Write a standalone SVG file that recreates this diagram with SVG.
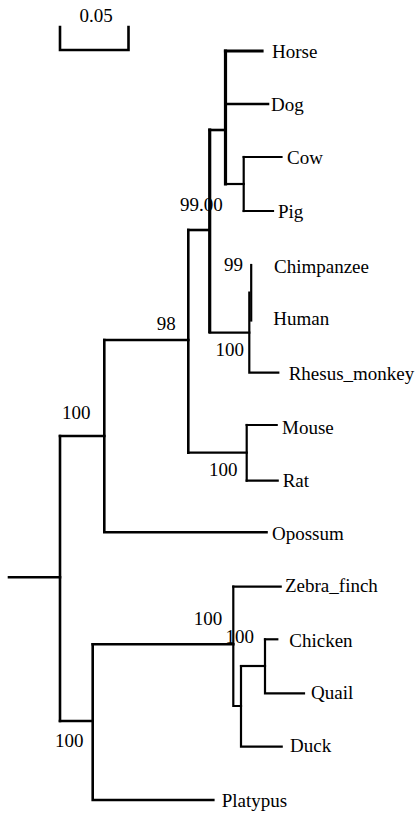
<svg xmlns="http://www.w3.org/2000/svg" width="418" height="814" viewBox="0 0 418 814">
<style>
.b{fill:none;stroke:#000;stroke-width:2.6;stroke-linecap:square;stroke-linejoin:miter}
.t{stroke-width:3.2}
.n{stroke-width:2.2}
text{font-family:"Liberation Serif","Times New Roman",serif;font-size:19px;fill:#000}
.m{text-anchor:middle}
</style>
<rect width="418" height="814" fill="#fff"/>
<g id="scale">
<path class="b" d="M60,27 V50 H128.5 V27"/>
<text class="m" x="96" y="22">0.05</text>
</g>
<g id="connectors">
<path class="b" d="M9,577.3 H60"/>
<path class="b" d="M60,436 V721"/>
<path class="b" d="M60,436 H104.3"/>
<path class="b" d="M104.3,340 V532.3 H266.5"/>
<path class="b" d="M104.3,340 H188.3"/>
<path class="b" d="M188.3,230 V452.7"/>
<path class="b" d="M188.3,230 H209.7"/>
<path class="b t" d="M209.7,130 V331.7"/>
<path class="b" d="M209.7,130 H225.5"/>
<path class="b t" d="M225.5,51 V184"/>
<path class="b t" d="M225.5,51 H262"/>
<path class="b" d="M225.5,104 H268"/>
<path class="b n" d="M225.5,184 H243.7"/>
<path class="b n" d="M243.7,157 V211"/>
<path class="b n" d="M243.7,157 H281.5"/>
<path class="b n" d="M243.7,211 H273"/>
<path class="b n" d="M209.7,332.7 H249.3"/>
<path class="b n" d="M249.3,292.7 V372.7 H278.3"/>
<path class="b n" d="M251.2,265 V320.5"/>
<path class="b n" d="M188.3,452.7 H246.7"/>
<path class="b n" d="M246.7,425 V480.7"/>
<path class="b n" d="M246.7,425 H276.7"/>
<path class="b n" d="M246.7,480.7 H277.7"/>
<path class="b" d="M60,721 H92.7"/>
<path class="b" d="M92.7,644.3 V800 H213.3"/>
<path class="b" d="M92.7,644.3 H233.3"/>
<path class="b n" d="M233.3,586.7 V706 H241"/>
<path class="b n" d="M233.3,586.7 H280.7"/>
<path class="b n" d="M241,666 V746.7 H281.7"/>
<path class="b n" d="M241,666 H265"/>
<path class="b n" d="M265,639.3 V693.3 H304"/>
<path class="b n" d="M265,639.3 H277.3"/>
</g>
<g id="n-horse"><text x="272" y="58">Horse</text></g>
<g id="n-dog"><text x="271" y="111">Dog</text></g>
<g id="n-cow"><text x="287" y="164">Cow</text></g>
<g id="n-pig"><text x="278" y="218">Pig</text></g>
<g id="n-chimpanzee"><text x="274" y="273">Chimpanzee</text></g>
<g id="n-human"><text x="273.3" y="325">Human</text></g>
<g id="n-rhesus"><text x="288.7" y="379.5">Rhesus_monkey</text></g>
<g id="n-mouse"><text x="282" y="434.3">Mouse</text></g>
<g id="n-rat"><text x="282.7" y="487">Rat</text></g>
<g id="n-opossum"><text x="272" y="539.5">Opossum</text></g>
<g id="n-zebra"><text x="285" y="592">Zebra_finch</text></g>
<g id="n-chicken"><text x="289.3" y="646.5">Chicken</text></g>
<g id="n-quail"><text x="311" y="699">Quail</text></g>
<g id="n-duck"><text x="290" y="752">Duck</text></g>
<g id="n-platypus"><text x="221.7" y="807">Platypus</text></g>
<g id="support">
<text class="m" x="201.3" y="211">99.00</text>
<text class="m" x="233.5" y="271">99</text>
<text class="m" x="229.7" y="356">100</text>
<text class="m" x="166.2" y="330">98</text>
<text class="m" x="76.3" y="418.5">100</text>
<text class="m" x="223.3" y="476">100</text>
<text class="m" x="208" y="625">100</text>
<text class="m" x="239.7" y="643">100</text>
<text class="m" x="69.2" y="747">100</text>
</g>
</svg>
